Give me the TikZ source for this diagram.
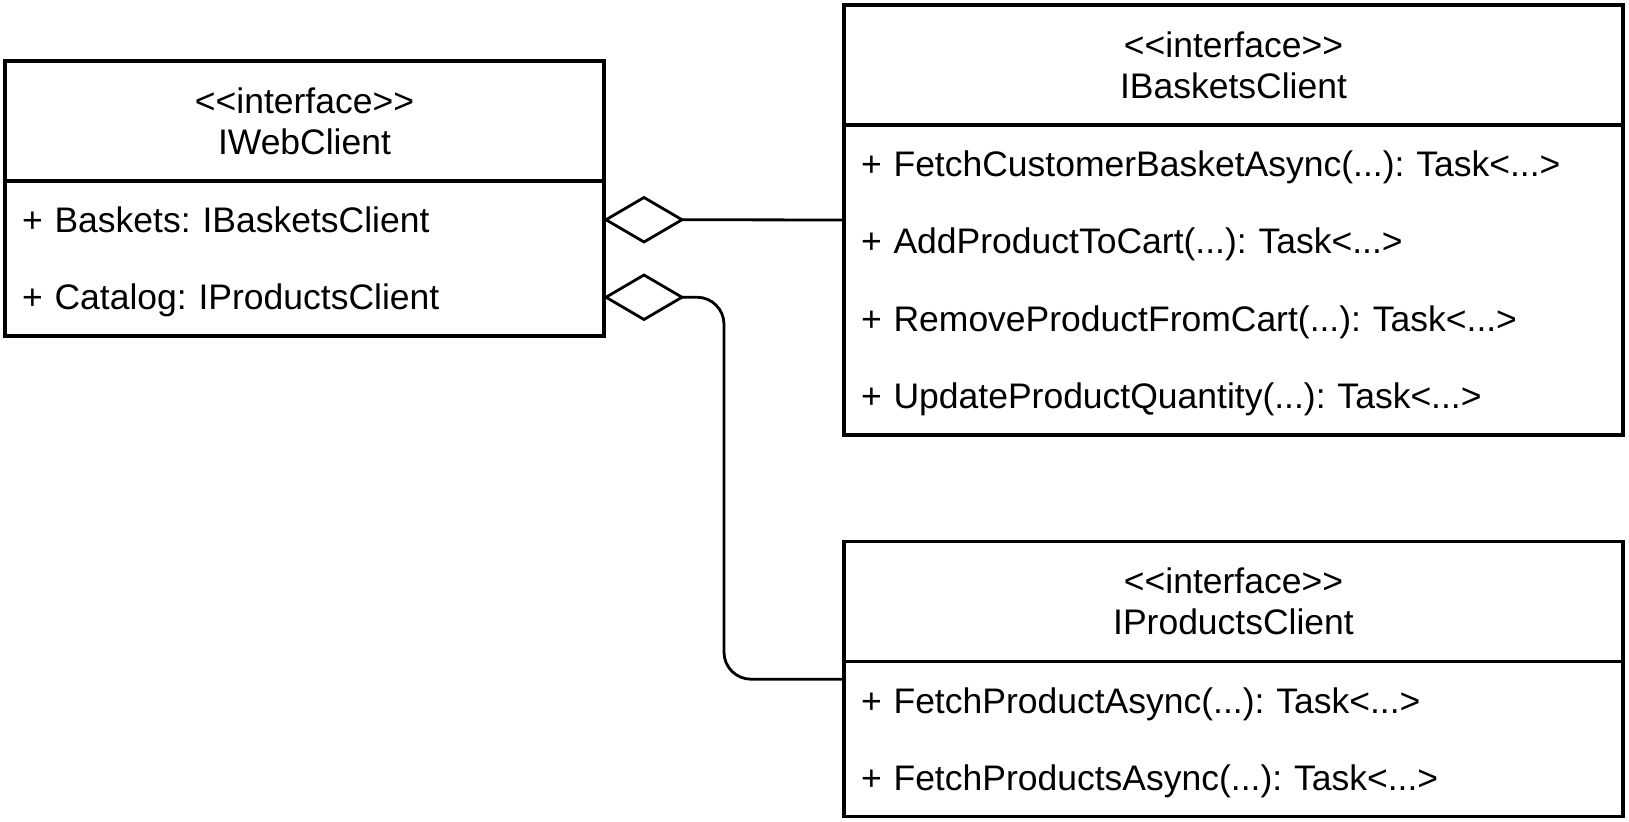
\documentclass[tikz,border=0pt]{standalone}
\usepackage{fontspec}
\setmainfont{Liberation Sans}[Ligatures=TeXOff]
\usetikzlibrary{shapes.geometric,positioning,fit}
\frenchspacing

\begin{document}
\begin{tikzpicture}[
    classhead/.style={
        rectangle,
        draw=black,
        line width=1.6pt,
        minimum width=#1,
        minimum height=60pt,
        align=center
    },
    classrow/.style={
        rectangle,
        text width=#1,
        inner xsep=8.5pt,
        minimum height=38.75pt,
        text height=12.7pt,
        text depth=0pt,
        align=left
    },
    classframe/.style={
        rectangle,
        draw=black,
        line width=1.6pt,
        inner sep=0pt
    },
    aggregation/.style={
        diamond,
        draw=black,
        fill=white,
        line width=1.4pt,
        minimum width=38pt,
        minimum height=22.25pt,
        inner sep=0pt
    },
    connector/.style={draw=black, line width=1.4pt},
    every node/.append style={outer sep=0pt},
    font=\fontsize{17.75pt}{20.5pt}\selectfont,
    node distance=0pt
]

    % Page size and white background
    \path[use as bounding box, fill=white] (0,0) rectangle (814.5pt,-411pt);

    % IWebClient interface
    \node[classhead=299.5pt, anchor=north west] (webhead) at (2.5pt,-30.5pt)
        {<<interface>>\\IWebClient};
    \node[classrow=282.5pt, below=of webhead] (webrow1) {+ Baskets: IBasketsClient};
    \node[classrow=282.5pt, below=of webrow1] (webrow2) {+ Catalog: IProductsClient};
    \node[classframe, fit=(webhead)(webrow2)] (webclient) {};

    % IBasketsClient interface
    \node[classhead=389.5pt, anchor=north west] (baskhead) at (422pt,-2.5pt)
        {<<interface>>\\IBasketsClient};
    \node[classrow=372.5pt, below=of baskhead] (baskrow1) {+ FetchCustomerBasketAsync(...): Task<...>};
    \node[classrow=372.5pt, below=of baskrow1] (baskrow2) {+ AddProductToCart(...): Task<...>};
    \node[classrow=372.5pt, below=of baskrow2] (baskrow3) {+ RemoveProductFromCart(...): Task<...>};
    \node[classrow=372.5pt, below=of baskrow3] (baskrow4) {+ UpdateProductQuantity(...): Task<...>};
    \node[classframe, fit=(baskhead)(baskrow4)] (basketsclient) {};

    % IProductsClient interface
    \node[classhead=389.5pt, anchor=north west] (prodhead) at (422pt,-270.85pt)
        {<<interface>>\\IProductsClient};
    \node[classrow=372.5pt, below=of prodhead] (prodrow1) {+ FetchProductAsync(...): Task<...>};
    \node[classrow=372.5pt, below=of prodrow1] (prodrow2) {+ FetchProductsAsync(...): Task<...>};
    \node[classframe, fit=(prodhead)(prodrow2)] (productsclient) {};

    % Aggregation diamonds at the attribute rows
    \node[aggregation, anchor=west, xshift=1pt] (aggbaskets) at (webrow1.east) {};
    \node[aggregation, anchor=west, xshift=1pt] (aggproducts) at (webrow2.east) {};

    % Connectors
    \draw[connector] (aggbaskets.east) -- (basketsclient.west);
    \draw[connector, rounded corners=13.5pt] (aggproducts.east) -- ++(21pt,0)
        |- (productsclient.west);

\end{tikzpicture}
\end{document}
